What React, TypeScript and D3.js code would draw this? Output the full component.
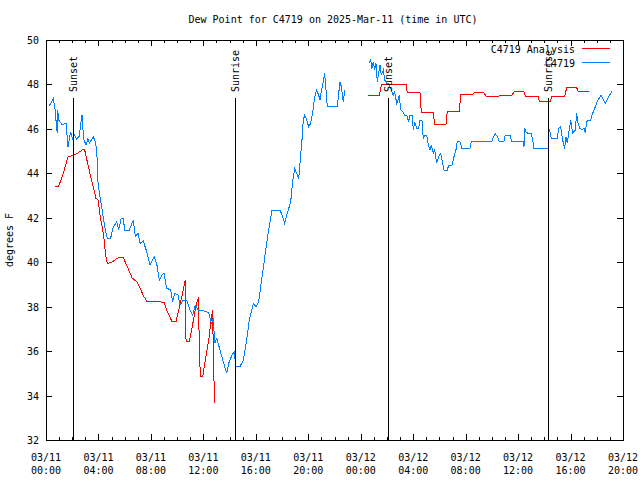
import React from "react";
import * as d3 from "d3";

// hours since 2025-03-11 00:00 UTC
const obsHours = [
  0.25, 0.56, 0.71, 0.79, 0.86, 0.89, 0.97, 1.22, 1.53, 1.58, 1.68, 1.88, 2.04, 2.14, 2.34, 2.54, 2.65, 2.75, 2.8, 2.9,
  3.05, 3.2, 3.3, 3.61, 3.76, 3.87, 3.97, 4.12, 4.32, 4.52, 4.67, 4.93, 5.09, 5.39, 5.54, 5.74, 5.89, 6.0, 6.35, 6.66,
  6.81, 7.02, 7.17, 7.42, 7.72, 7.93, 8.24, 8.44, 8.64, 8.85, 9.0, 9.2, 9.51, 9.66, 9.81, 10.07, 10.22, 10.47, 10.73, 10.93,
  11.19, 11.38, 11.59, 11.84, 12.41, 12.61, 12.76, 12.86, 13.02, 13.27, 13.52, 13.78, 13.93, 14.18, 14.34, 14.49, 14.79, 15.05, 15.3, 15.5,
  15.81, 16.01, 16.22, 16.32, 16.88, 17.08, 17.23, 17.84, 18.05, 18.2, 18.4, 18.66, 18.81, 18.96, 19.12, 19.27, 19.37, 19.52, 19.62, 19.73,
  19.88, 20.03, 20.18, 20.34, 20.49, 20.64, 20.79, 20.89, 20.99, 21.15, 21.25, 21.35, 21.45, 22.21, 22.32, 22.42, 22.52, 22.62, 22.67, 22.78,
  23.7,
  24.65, 24.76, 24.86, 24.96, 25.06, 25.16, 25.26, 25.37, 25.47, 25.57, 25.72, 25.83, 25.98, 26.08, 26.23, 26.38, 26.48, 26.59, 26.74, 26.84,
  26.94, 27.05, 27.2, 27.35, 27.5, 27.66, 27.76, 27.91, 28.01, 28.12, 28.27, 28.42, 28.52, 28.67, 28.77, 28.88, 29.03, 29.13, 29.28, 29.38,
  29.53, 29.64, 29.79, 29.94, 30.1, 30.25, 30.35, 30.6, 30.71, 30.96, 31.11, 31.26, 31.36, 31.57, 31.72, 32.33, 32.43, 33.99, 34.11, 34.26,
  34.42, 34.57, 34.92, 35.02, 35.38, 35.53, 36.4, 36.45, 36.5, 36.6, 36.75, 37.01, 37.11, 37.21, 38.28, 38.33, 38.43, 38.53, 38.99, 39.1,
  39.25, 39.4, 39.55, 39.65, 39.75, 39.9, 40.01, 40.16, 40.36, 40.47, 40.57, 40.72, 40.87, 41.03, 41.12, 41.23, 41.38, 41.54, 41.63, 41.84,
  42.09, 42.34, 42.65, 42.91, 43.16,
];
const obsValues: (number | null)[] = [
  47.04, 47.37, 46.8, 46.17, 45.8, 46.85, 46.4, 46.2, 46.25, 45.87, 45.2, 45.87, 45.5, 45.77, 45.53, 45.68, 46.25, 46.62, 46.1, 45.5,
  45.27, 45.57, 45.35, 45.65, 45.42, 45.05, 43.55, 42.95, 42.2, 41.45, 41.08, 41.08, 41.52, 41.82, 41.45, 41.98, 41.98, 41.45, 41.45, 41.9,
  41.15, 41.3, 40.85, 40.95, 40.4, 39.87, 40.25, 39.95, 39.2, 39.42, 39.5, 38.83, 38.75, 38.22, 38.6, 38.52, 38.07, 38.3, 38.3, 37.92,
  37.62, 38.07, 37.85, 37.85, 37.73, 37.25, 37.48, 36.35, 36.57, 36.05, 35.52, 35.0, 35.45, 35.82, 35.97, 35.3, 35.3, 35.6, 36.5, 37.4,
  38.15, 38.0, 38.22, 38.67, 41.08, 41.82, 42.35, 42.35, 42.05, 41.75, 42.2, 42.72, 43.62, 44.22, 44.0, 43.77, 44.45, 45.5, 46.4, 46.62,
  46.4, 46.1, 46.25, 46.77, 47.45, 47.75, 47.52, 47.3, 47.67, 48.12, 48.5, 47.75, 47.0, 47.0, 47.6, 48.12, 47.9, 47.45, 47.22, 47.75,
  null,
  48.95, 49.1, 48.72, 49.02, 48.65, 48.95, 48.12, 48.5, 48.87, 48.42, 48.65, 48.2, 48.05, 48.05, 47.9, 47.67, 47.52, 47.67, 47.15, 47.3,
  47.52, 46.85, 46.77, 46.62, 46.62, 46.32, 46.62, 46.62, 45.95, 46.32, 46.02, 46.02, 46.4, 46.4, 45.57, 45.72, 45.72, 45.35, 45.05, 45.27,
  44.9, 45.05, 44.45, 44.75, 44.9, 44.45, 44.15, 44.15, 44.37, 44.37, 44.75, 45.05, 45.42, 45.42, 45.12, 45.12, 45.42, 45.42, 45.65, 45.77,
  45.65, 45.42, 45.42, 45.72, 45.72, 45.42, 45.42, 45.2, 46.02, 45.87, 45.8, 45.8, 45.5, 45.12, 45.12, 46.02, 45.87, 45.57, 45.57, 46.02,
  46.1, 45.5, 45.12, 45.65, 45.35, 45.95, 46.4, 45.8, 45.95, 46.7, 46.25, 46.02, 45.95, 46.02, 45.8, 46.32, 46.4, 46.4, 46.62, 46.92,
  47.3, 47.52, 47.15, 47.45, 47.7,
];

const anaHours = [
  0.71, 0.97, 1.32, 1.68, 2.08, 2.39, 2.84, 2.95, 3.15, 3.41, 3.66, 3.81, 3.97, 4.12, 4.32, 4.48, 4.52, 4.67, 4.98, 5.54,
  5.89, 6.2, 6.56, 6.92, 7.17, 7.47, 7.68, 9.0, 9.2, 9.61, 9.91, 10.12, 10.27, 10.47, 10.62, 10.68, 10.93, 11.13, 11.38, 11.49,
  11.64, 11.69, 11.8, 11.95, 12.15, 12.41, 12.56, 12.71, 12.76, 12.86,
  18.0,
  24.58, 25.42, 25.52, 25.62, 27.45, 27.55, 28.52, 28.62, 29.53, 29.64, 30.5, 30.6, 31.52, 31.62, 32.58, 32.69, 33.35, 33.61, 34.52, 34.62,
  35.53, 35.69, 36.45, 36.55, 37.52, 37.62, 38.43, 38.58, 39.55, 39.7, 40.47, 40.57, 41.43,
];
const anaValues: (number | null)[] = [
  43.43, 43.43, 44.0, 44.75, 44.8, 44.9, 45.08, 45.05, 44.52, 43.85, 43.25, 42.87, 42.8, 42.12, 41.45, 40.85, 40.4, 39.95, 39.98, 40.22,
  40.22, 39.8, 39.3, 39.12, 38.83, 38.45, 38.25, 38.2, 37.85, 37.32, 37.32, 37.85, 38.22, 38.75, 39.2, 36.42, 36.42, 37.02, 37.85, 38.15,
  38.45, 35.75, 34.85, 34.85, 35.6, 36.5, 37.25, 37.85, 35.75, 33.65,
  null,
  47.52, 47.52, 47.82, 48.02, 48.02, 47.63, 47.63, 46.73, 46.73, 46.22, 46.22, 46.77, 46.77, 47.57, 47.57, 47.65, 47.65, 47.45, 47.45, 47.52,
  47.52, 47.67, 47.67, 47.48, 47.48, 47.22, 47.22, 47.45, 47.45, 47.85, 47.85, 47.7, 47.7,
];

const sunHours = [2.08, 14.43, 26.05, 38.3];
const sunLabels = ["Sunset", "Sunrise", "Sunset", "Sunrise"];

const xTickHours = [0, 4, 8, 12, 16, 20, 24, 28, 32, 36, 40, 44];
const xTickDates = ["03/11", "03/11", "03/11", "03/11", "03/11", "03/11", "03/12", "03/12", "03/12", "03/12", "03/12", "03/12"];
const xTickTimes = ["00:00", "04:00", "08:00", "12:00", "16:00", "20:00", "00:00", "04:00", "08:00", "12:00", "16:00", "20:00"];
const yTicks = [32, 34, 36, 38, 40, 42, 44, 46, 48, 50];

const seriesNames = ["C4719 Analysis", "C4719"];
const seriesColors = ["#ff0000", "#0080ff"];

const W = 640;
const H = 480;
const L = 46;
const R = 623;
const T = 40;
const B = 440;
const FONT = "'DejaVu Sans Mono', 'Liberation Mono', monospace";

export default function App() {
  const x = d3.scaleLinear().domain([0, 44]).range([L, R]);
  const y = d3.scaleLinear().domain([32, 50]).range([B, T]);

  const mk = (hs: number[], vs: (number | null)[]) =>
    d3
      .line<number>()
      .defined((i) => vs[i] !== null)
      .x((i) => x(hs[i]))
      .y((i) => y(vs[i] as number))(d3.range(hs.length)) || "";

  const obsPath = mk(obsHours, obsValues);
  const anaPath = mk(anaHours, anaValues);

  const minorHours = d3.range(0, 45, 1);

  return (
    <svg
      width={W}
      height={H}
      style={{ position: "absolute", left: 0, top: 0, background: "#fff" }}
      fontFamily={FONT}
      fontSize={10}
    >
      <rect x={0} y={0} width={W} height={H} fill="#fff" />
      <text x={333} y={23} textAnchor="middle" fill="#000">
        Dew Point for C4719 on 2025-Mar-11 (time in UTC)
      </text>
      <text
        transform={`translate(13,${(T + B) / 2}) rotate(-90)`}
        textAnchor="middle"
        fill="#000"
      >
        degrees F
      </text>

      {/* data */}
      <path d={anaPath} fill="none" stroke={seriesColors[0]} strokeWidth={1} shapeRendering="crispEdges" />
      <path d={obsPath} fill="none" stroke={seriesColors[1]} strokeWidth={1} shapeRendering="crispEdges" />

      {/* sunrise / sunset */}
      {sunHours.map((h, i) => (
        <g key={"s" + i}>
          <line
            x1={Math.round(x(h)) + 0.5}
            x2={Math.round(x(h)) + 0.5}
            y1={98}
            y2={B}
            stroke="#000"
            strokeWidth={1}
            shapeRendering="crispEdges"
          />
          <text
            transform={`translate(${Math.round(x(h)) + 4},92) rotate(-90)`}
            textAnchor="start"
            fill="#000"
          >
            {sunLabels[i]}
          </text>
        </g>
      ))}

      {/* axes frame */}
      <rect
        x={L + 0.5}
        y={T + 0.5}
        width={R - L}
        height={B - T}
        fill="none"
        stroke="#000"
        strokeWidth={1}
        shapeRendering="crispEdges"
      />
      <g shapeRendering="crispEdges" stroke="#000" strokeWidth={1}>
        {minorHours.map((h) => {
          const len = h % 4 === 0 ? 6 : 3;
          const px = Math.round(x(h)) + 0.5;
          return (
            <g key={"m" + h}>
              <line x1={px} x2={px} y1={B} y2={B - len} />
              <line x1={px} x2={px} y1={T} y2={T + len} />
            </g>
          );
        })}
        {yTicks.map((v) => {
          const py = Math.round(y(v)) + 0.5;
          return (
            <g key={"y" + v}>
              <line x1={L} x2={L + 6} y1={py} y2={py} />
              <line x1={R} x2={R - 6} y1={py} y2={py} />
            </g>
          );
        })}
      </g>
      {yTicks.map((v) => (
        <text key={"yl" + v} x={39} y={y(v) + 4} textAnchor="end" fill="#000">
          {v}
        </text>
      ))}
      {xTickHours.map((h, i) => (
        <g key={"xl" + h}>
          <text x={x(h)} y={461} textAnchor="middle" fill="#000">
            {xTickDates[i]}
          </text>
          <text x={x(h)} y={474} textAnchor="middle" fill="#000">
            {xTickTimes[i]}
          </text>
        </g>
      ))}

      {/* legend */}
      {seriesNames.map((n, i) => (
        <g key={"lg" + i}>
          <text x={575} y={53 + i * 14} textAnchor="end" fill="#000">
            {n}
          </text>
          <line
            x1={582}
            x2={610}
            y1={48.5 + i * 14}
            y2={48.5 + i * 14}
            stroke={seriesColors[i]}
            strokeWidth={1}
            shapeRendering="crispEdges"
          />
        </g>
      ))}
    </svg>
  );
}
